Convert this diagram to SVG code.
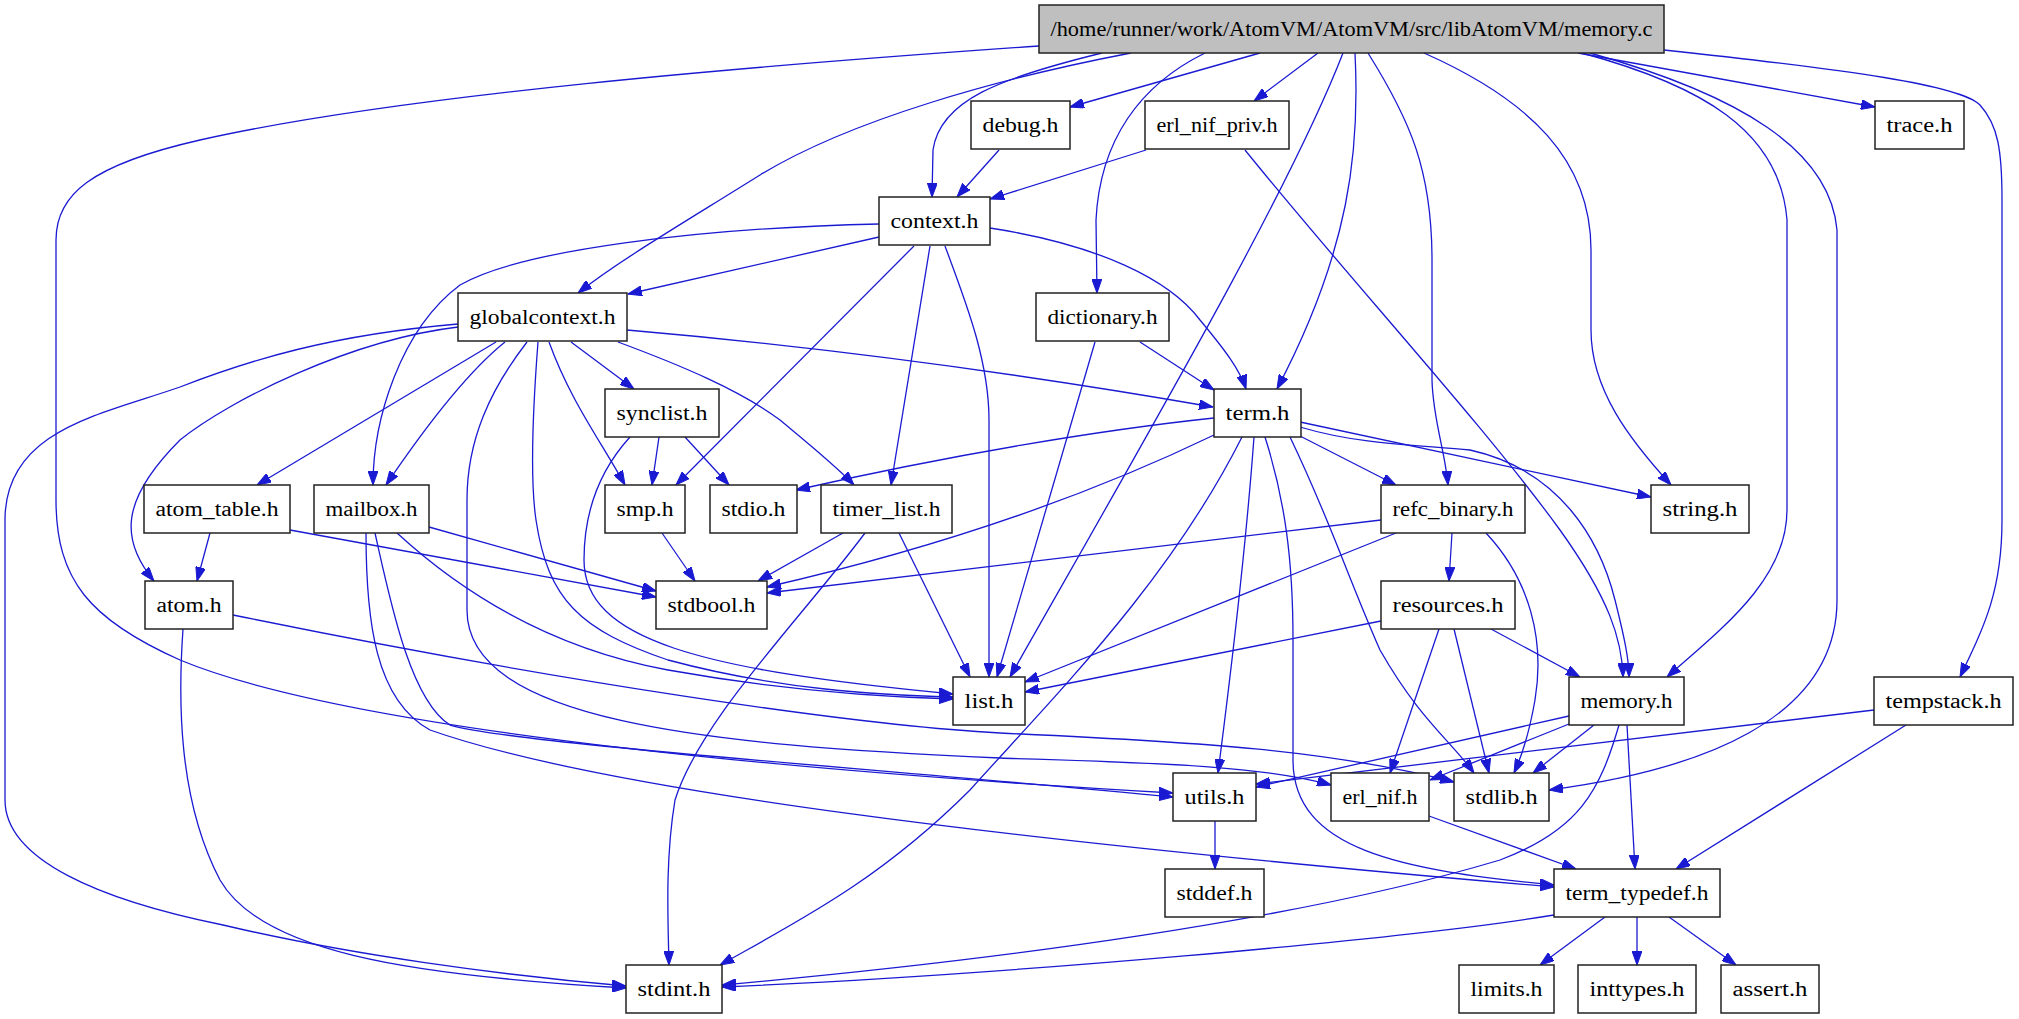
<svg xmlns="http://www.w3.org/2000/svg" width="2019" height="1019" viewBox="0 0 2019 1019">
<defs>
<style>
.n rect{fill:#fff;stroke:#222;stroke-width:1.5}
.n.root rect{fill:#bfbfbf}
.n text{font-family:"Liberation Serif","Times New Roman",serif;font-size:20px;fill:#000;text-anchor:middle}
#edges path{fill:none;stroke:#1a1ad2;stroke-width:1.3;marker-end:url(#arr)}
</style>
<marker id="arr" markerWidth="14" markerHeight="10" refX="14" refY="5" orient="auto" markerUnits="userSpaceOnUse">
<path d="M0,0 L14,5 L0,10 z" fill="#1a1ad2" stroke="#1a1ad2" stroke-width="1"/>
</marker>
</defs>
<rect width="2019" height="1019" fill="#fff"/>
<g id="edges">
<path d="M1039,46 C750,66 400,95 200,140 C90,165 56,195 56,240 L56,500 C56,580 90,620 180,660 C300,710 600,760 1173,793"/>
<path d="M1131,53 C1000,78 850,120 760,175 C680,225 620,260 578,293"/>
<path d="M1102,53 C1000,78 940,100 933,150 L932,197"/>
<path d="M1260,53 L1070,107"/>
<path d="M1205,53 C1140,85 1100,140 1096,220 L1097,293"/>
<path d="M1318,53 L1254,101"/>
<path d="M1343,53 C1290,190 1150,430 1010,677"/>
<path d="M1355,53 C1360,150 1350,250 1277,389"/>
<path d="M1368,53 C1410,120 1432,170 1432,260 L1432,380 C1433,420 1445,450 1448,485"/>
<path d="M1424,53 C1530,100 1591,160 1591,250 L1591,330 C1591,390 1630,440 1671,485"/>
<path d="M1582,53 C1700,85 1780,130 1787,220 L1787,510 C1787,580 1720,630 1667,677"/>
<path d="M1590,53 C1740,95 1830,150 1837,230 L1837,600 C1837,720 1700,770 1549,790"/>
<path d="M1578,53 L1875,107"/>
<path d="M1664,50 C1850,70 1960,85 1980,105 C1998,125 2002,150 2002,200 L2002,520 C2002,590 1985,625 1960,677"/>
<path d="M879,237 L628,294"/>
<path d="M879,224 C700,228 520,250 460,285 C400,330 373,420 373,485"/>
<path d="M914,246 L676,485"/>
<path d="M930,246 L891,485"/>
<path d="M945,246 C965,300 989,360 989,420 L989,677"/>
<path d="M990,228 C1100,245 1170,280 1200,320 C1225,350 1240,370 1246,389"/>
<path d="M999,150 L957,197"/>
<path d="M1146,150 L990,199"/>
<path d="M1245,150 C1350,280 1480,420 1560,530 C1610,600 1622,640 1623,677"/>
<path d="M1140,342 L1214,390"/>
<path d="M1095,342 L997,677"/>
<path d="M458,324 C330,335 250,360 180,387 C100,415 5,430 5,520 L5,800 C5,860 100,900 223,925 C350,955 500,975 626,986"/>
<path d="M458,327 C350,340 230,400 180,440 C120,500 120,540 154,581"/>
<path d="M496,342 L257,485"/>
<path d="M505,342 C470,370 430,420 386,485"/>
<path d="M527,342 C490,390 467,440 467,500 L467,610 C467,720 700,745 1000,758 C1150,763 1260,765 1331,785"/>
<path d="M538,342 C532,420 530,480 536,520 C548,600 580,630 668,660 C780,690 880,695 953,697"/>
<path d="M549,342 C570,400 600,440 625,485"/>
<path d="M571,342 L634,389"/>
<path d="M618,342 C680,365 740,390 780,420 C810,445 835,465 854,485"/>
<path d="M627,330 C800,345 1000,370 1213,407"/>
<path d="M630,437 C600,470 584,510 584,560 C584,640 700,670 953,694"/>
<path d="M659,437 L652,485"/>
<path d="M685,437 L729,485"/>
<path d="M1214,418 C1100,430 950,455 796,490"/>
<path d="M1214,435 C1100,490 950,545 767,587"/>
<path d="M1300,436 L1396,485"/>
<path d="M1300,422 L1651,497"/>
<path d="M1300,427 C1360,445 1420,445 1470,450 C1560,470 1600,540 1615,600 C1625,640 1629,660 1629,677"/>
<path d="M1242,437 C1170,580 1060,690 970,790 C880,880 800,920 720,965"/>
<path d="M1254,437 C1245,560 1230,680 1218,773"/>
<path d="M1265,437 C1285,500 1293,560 1293,640 L1293,760 C1293,850 1400,870 1554,885"/>
<path d="M1290,437 C1330,520 1345,570 1380,650 C1420,720 1450,740 1474,773"/>
<path d="M397,533 C470,600 560,650 668,670 C780,690 880,697 953,699"/>
<path d="M429,527 L656,591"/>
<path d="M375,533 C390,600 410,700 450,725 C520,745 900,770 1173,797"/>
<path d="M366,533 C366,620 375,700 430,730 C600,790 1000,840 1554,887"/>
<path d="M210,533 L197,581"/>
<path d="M290,530 L656,597"/>
<path d="M183,629 C178,700 178,800 220,880 C260,950 400,975 626,988"/>
<path d="M233,615 C550,680 850,725 1000,733 C1200,742 1330,750 1454,782"/>
<path d="M662,533 L695,581"/>
<path d="M899,533 L970,677"/>
<path d="M843,533 L758,581"/>
<path d="M865,533 C800,620 700,720 675,800 C665,860 668,920 669,965"/>
<path d="M1396,533 L1025,682"/>
<path d="M1452,533 L1449,581"/>
<path d="M1381,520 L767,593"/>
<path d="M1486,533 C1530,580 1545,640 1535,700 C1528,740 1520,760 1514,773"/>
<path d="M1381,621 L1025,692"/>
<path d="M1439,629 L1390,773"/>
<path d="M1454,629 L1489,773"/>
<path d="M1491,629 L1580,677"/>
<path d="M1569,716 L1256,787"/>
<path d="M1569,724 L1430,780"/>
<path d="M1594,725 L1533,773"/>
<path d="M1627,725 L1635,869"/>
<path d="M1619,725 C1600,790 1580,830 1500,860 C1300,920 1000,960 722,985"/>
<path d="M1906,725 L1676,869"/>
<path d="M1874,710 L1256,784"/>
<path d="M1429,816 L1576,869"/>
<path d="M1215,821 L1215,869"/>
<path d="M1605,917 L1540,965"/>
<path d="M1637,917 L1637,965"/>
<path d="M1669,917 L1736,965"/>
<path d="M1554,915 C1400,940 1000,975 722,987"/>
</g>
<g id="n_main" class="n root"><rect x="1039" y="5" width="625" height="48"/><text x="1351.5" y="35.5" textLength="602" lengthAdjust="spacingAndGlyphs">/home/runner/work/AtomVM/AtomVM/src/libAtomVM/memory.c</text></g>
<g id="n_debug" class="n"><rect x="971" y="101" width="99" height="48"/><text x="1020.5" y="131.5" textLength="76" lengthAdjust="spacingAndGlyphs">debug.h</text></g>
<g id="n_erl_nif_priv" class="n"><rect x="1145" y="101" width="144" height="48"/><text x="1217" y="131.5" textLength="121" lengthAdjust="spacingAndGlyphs">erl_nif_priv.h</text></g>
<g id="n_trace" class="n"><rect x="1875" y="101" width="89" height="48"/><text x="1919.5" y="131.5" textLength="66" lengthAdjust="spacingAndGlyphs">trace.h</text></g>
<g id="n_context" class="n"><rect x="879" y="197" width="111" height="48"/><text x="934.5" y="227.5" textLength="88" lengthAdjust="spacingAndGlyphs">context.h</text></g>
<g id="n_globalcontext" class="n"><rect x="458" y="293" width="169" height="48"/><text x="542.5" y="323.5" textLength="146" lengthAdjust="spacingAndGlyphs">globalcontext.h</text></g>
<g id="n_dictionary" class="n"><rect x="1036" y="293" width="133" height="48"/><text x="1102.5" y="323.5" textLength="110" lengthAdjust="spacingAndGlyphs">dictionary.h</text></g>
<g id="n_synclist" class="n"><rect x="605" y="389" width="114" height="48"/><text x="662" y="419.5" textLength="91" lengthAdjust="spacingAndGlyphs">synclist.h</text></g>
<g id="n_term" class="n"><rect x="1214" y="389" width="87" height="48"/><text x="1257.5" y="419.5" textLength="64" lengthAdjust="spacingAndGlyphs">term.h</text></g>
<g id="n_atom_table" class="n"><rect x="144" y="485" width="146" height="48"/><text x="217" y="515.5" textLength="123" lengthAdjust="spacingAndGlyphs">atom_table.h</text></g>
<g id="n_mailbox" class="n"><rect x="314" y="485" width="115" height="48"/><text x="371.5" y="515.5" textLength="92" lengthAdjust="spacingAndGlyphs">mailbox.h</text></g>
<g id="n_smp" class="n"><rect x="605" y="485" width="80" height="48"/><text x="645" y="515.5" textLength="57" lengthAdjust="spacingAndGlyphs">smp.h</text></g>
<g id="n_stdio" class="n"><rect x="710" y="485" width="87" height="48"/><text x="753.5" y="515.5" textLength="64" lengthAdjust="spacingAndGlyphs">stdio.h</text></g>
<g id="n_timer_list" class="n"><rect x="821" y="485" width="131" height="48"/><text x="886.5" y="515.5" textLength="108" lengthAdjust="spacingAndGlyphs">timer_list.h</text></g>
<g id="n_refc_binary" class="n"><rect x="1381" y="485" width="144" height="48"/><text x="1453" y="515.5" textLength="121" lengthAdjust="spacingAndGlyphs">refc_binary.h</text></g>
<g id="n_string" class="n"><rect x="1651" y="485" width="98" height="48"/><text x="1700" y="515.5" textLength="75" lengthAdjust="spacingAndGlyphs">string.h</text></g>
<g id="n_atom" class="n"><rect x="145" y="581" width="88" height="48"/><text x="189" y="611.5" textLength="65" lengthAdjust="spacingAndGlyphs">atom.h</text></g>
<g id="n_stdbool" class="n"><rect x="656" y="581" width="111" height="48"/><text x="711.5" y="611.5" textLength="88" lengthAdjust="spacingAndGlyphs">stdbool.h</text></g>
<g id="n_resources" class="n"><rect x="1381" y="581" width="134" height="48"/><text x="1448" y="611.5" textLength="111" lengthAdjust="spacingAndGlyphs">resources.h</text></g>
<g id="n_list" class="n"><rect x="953" y="677" width="72" height="48"/><text x="989" y="707.5" textLength="49" lengthAdjust="spacingAndGlyphs">list.h</text></g>
<g id="n_memory" class="n"><rect x="1569" y="677" width="115" height="48"/><text x="1626.5" y="707.5" textLength="92" lengthAdjust="spacingAndGlyphs">memory.h</text></g>
<g id="n_tempstack" class="n"><rect x="1874" y="677" width="139" height="48"/><text x="1943.5" y="707.5" textLength="116" lengthAdjust="spacingAndGlyphs">tempstack.h</text></g>
<g id="n_utils" class="n"><rect x="1173" y="773" width="83" height="48"/><text x="1214.5" y="803.5" textLength="60" lengthAdjust="spacingAndGlyphs">utils.h</text></g>
<g id="n_erl_nif" class="n"><rect x="1331" y="773" width="98" height="48"/><text x="1380" y="803.5" textLength="75" lengthAdjust="spacingAndGlyphs">erl_nif.h</text></g>
<g id="n_stdlib" class="n"><rect x="1454" y="773" width="95" height="48"/><text x="1501.5" y="803.5" textLength="72" lengthAdjust="spacingAndGlyphs">stdlib.h</text></g>
<g id="n_stddef" class="n"><rect x="1165" y="869" width="99" height="48"/><text x="1214.5" y="899.5" textLength="76" lengthAdjust="spacingAndGlyphs">stddef.h</text></g>
<g id="n_term_typedef" class="n"><rect x="1554" y="869" width="166" height="48"/><text x="1637" y="899.5" textLength="143" lengthAdjust="spacingAndGlyphs">term_typedef.h</text></g>
<g id="n_stdint" class="n"><rect x="626" y="965" width="96" height="48"/><text x="674" y="995.5" textLength="73" lengthAdjust="spacingAndGlyphs">stdint.h</text></g>
<g id="n_limits" class="n"><rect x="1459" y="965" width="95" height="48"/><text x="1506.5" y="995.5" textLength="72" lengthAdjust="spacingAndGlyphs">limits.h</text></g>
<g id="n_inttypes" class="n"><rect x="1578" y="965" width="118" height="48"/><text x="1637" y="995.5" textLength="95" lengthAdjust="spacingAndGlyphs">inttypes.h</text></g>
<g id="n_assert" class="n"><rect x="1721" y="965" width="98" height="48"/><text x="1770" y="995.5" textLength="75" lengthAdjust="spacingAndGlyphs">assert.h</text></g>
</svg>
